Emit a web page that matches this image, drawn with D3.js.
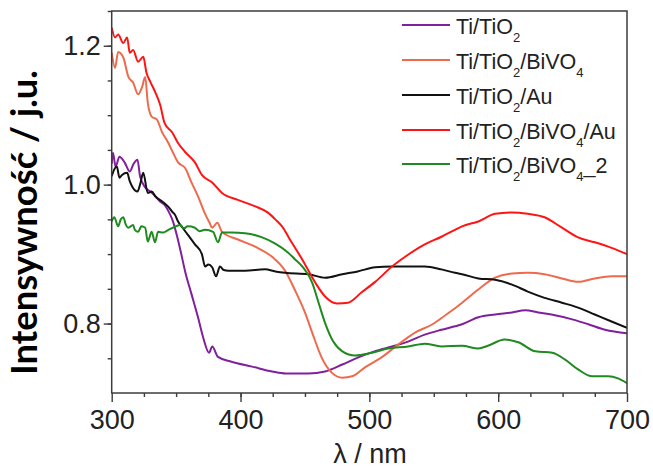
<!DOCTYPE html>
<html>
<head>
<meta charset="utf-8">
<script src="https://cdn.jsdelivr.net/npm/d3@7"></script>
<style>
  html, body { margin: 0; padding: 0; background: #ffffff; }
  svg { display: block; }
</style>
</head>
<body>
<script>
// ---------------- DATA ----------------
const seriesNames = [
  "Ti/TiO_{2}",
  "Ti/TiO_{2}/BiVO_{4}",
  "Ti/TiO_{2}/Au",
  "Ti/TiO_{2}/BiVO_{4}/Au",
  "Ti/TiO_{2}/BiVO_{4}_2"
];
const seriesColors = ["#80209c", "#ee6a4d", "#111111", "#ff1414", "#1f8a1f"];

const xTickLabels = [300, 400, 500, 600, 700];
const yTickLabels = [0.8, 1.0, 1.2];

// [wavelength nm, intensity]
const tio2 = [
  [300,1.030],[301,1.046],[303,1.026],[306,1.040],[310,1.032],[314,1.019],[317,1.030],[320,1.036],
  [322,1.012],[326,0.996],[330,0.990],[334,0.983],[338,0.975],[341,0.971],[344,0.962],[347,0.950],
  [351,0.924],[354,0.900],[357,0.875],[362,0.842],[367,0.809],[371,0.780],[375.6,0.758],[378,0.767],
  [382.5,0.752],[393,0.745],[409,0.738],[424.5,0.731],[435,0.728],[452.6,0.728],[465.6,0.731],
  [479,0.741],[491,0.751],[504,0.760],[517.6,0.767],[530,0.774],[543,0.784],[556,0.791],[566.5,0.796],
  [572,0.799],[584.6,0.809],[597.6,0.813],[610.8,0.816],[621,0.819],[631,0.816],[644,0.812],
  [657.5,0.806],[670,0.799],[683,0.791],[700,0.786]
];
const tio2Bivo4 = [
  [300,1.190],[302.6,1.168],[305,1.191],[309,1.183],[313,1.155],[316.6,1.147],[320.5,1.130],
  [323.5,1.140],[326,1.155],[328,1.118],[331,1.098],[335,1.094],[339,1.076],[344,1.060],[347.6,1.046],
  [351.5,1.032],[357,1.024],[362,1.003],[367,0.983],[372.5,0.958],[376,0.945],[378,0.938],[382,0.945],
  [385.6,0.932],[398,0.921],[411,0.911],[424.5,0.896],[434.6,0.876],[442,0.849],[450,0.816],
  [455.6,0.787],[463,0.751],[471,0.729],[479,0.722],[486.6,0.724],[496.6,0.737],[510,0.752],
  [522.5,0.770],[535.5,0.787],[549,0.799],[559,0.812],[566.5,0.822],[572,0.830],[584.6,0.849],
  [597.6,0.866],[610.8,0.872],[623,0.873],[636,0.871],[649.5,0.865],[662,0.860],[675,0.865],
  [688,0.868],[700,0.868]
];
const tio2Au = [
  [300,1.012],[302,1.022],[304,1.026],[306,1.010],[308,1.014],[312,1.017],[314,1.005],[316,0.997],
  [320,0.990],[322,1.000],[324.5,1.017],[328,0.988],[331,0.990],[334,0.983],[339,0.976],[344,0.968],
  [347,0.961],[349,0.957],[351.5,0.947],[355,0.938],[359,0.928],[364.6,0.914],[370,0.900],
  [372.5,0.882],[375,0.885],[378,0.881],[381,0.868],[384,0.882],[387,0.877],[390.5,0.876],
  [403.5,0.876],[419,0.878],[427,0.875],[434.6,0.873],[452.6,0.871],[465.6,0.866],[479,0.871],
  [491,0.875],[504.5,0.881],[517.6,0.882],[530,0.882],[543,0.882],[556,0.878],[566.5,0.873],
  [572,0.871],[584.6,0.865],[597.6,0.863],[610.8,0.856],[623,0.846],[636,0.837],[649.5,0.830],
  [662,0.823],[675,0.813],[688,0.803],[700,0.794]
];
const tio2Bivo4Au = [
  [300,1.226],[302.6,1.212],[305,1.216],[309,1.204],[312,1.212],[314,1.190],[316.6,1.194],
  [320.5,1.177],[324.5,1.184],[327,1.161],[330,1.148],[333.6,1.134],[337.6,1.115],[341,1.089],
  [347,1.075],[351.5,1.060],[357,1.047],[364.6,1.032],[370,1.014],[378,1.003],[385.6,0.988],
  [398,0.978],[411,0.969],[421,0.960],[427,0.950],[433,0.938],[438,0.922],[448,0.892],[458,0.859],
  [465.6,0.839],[475,0.829],[483.5,0.830],[494,0.845],[504.5,0.860],[517.6,0.882],[530,0.899],
  [543,0.914],[556,0.925],[566.5,0.935],[572,0.940],[584.6,0.947],[597.6,0.958],[610.8,0.960],
  [623,0.958],[636,0.953],[649.5,0.938],[662,0.924],[675,0.917],[688,0.909],[700,0.900]
];
const tio2Bivo4_2 = [
  [300,0.947],[302,0.953],[305,0.940],[307,0.950],[309,0.953],[311,0.942],[313,0.938],[316.6,0.942],
  [318,0.935],[320.5,0.932],[323,0.940],[326,0.938],[328,0.918],[331,0.932],[333.6,0.917],[336,0.932],
  [340,0.931],[344,0.935],[347.6,0.938],[353,0.942],[356,0.937],[359,0.940],[364.6,0.938],[368,0.933],
  [372.5,0.935],[378.7,0.932],[382.5,0.917],[385.6,0.931],[393,0.931],[403.5,0.930],[416.8,0.924],
  [427,0.915],[437,0.902],[442,0.893],[448,0.882],[455.6,0.859],[460.6,0.830],[465.6,0.801],
  [472,0.774],[479,0.760],[489,0.754],[502,0.758],[514.6,0.764],[530,0.767],[543,0.771],[556,0.767],
  [572,0.768],[584.6,0.764],[592,0.768],[605,0.777],[615.6,0.773],[629,0.760],[642,0.758],[652,0.748],
  [662,0.734],[673,0.724],[685.6,0.724],[693,0.721],[700,0.714]
];
const seriesData = [tio2, tio2Bivo4, tio2Au, tio2Bivo4Au, tio2Bivo4_2];

// ---------------- CHART ----------------
const W = 653, H = 468;
const plot = { left: 111.7, right: 627, top: 11, bottom: 393 };

const svg = d3.select("body").append("svg").attr("width", W).attr("height", H);

const x = d3.scaleLinear().domain([300, 700]).range([plot.left, plot.right]);
const y = d3.scaleLinear().domain([0.7, 1.25]).range([plot.bottom, plot.top]);

const tickFont = "'Liberation Sans', Arial, sans-serif";

svg.append("clipPath").attr("id", "clip")
  .append("rect").attr("x", plot.left).attr("y", plot.top)
  .attr("width", plot.right - plot.left).attr("height", plot.bottom - plot.top);

// minor/major ticks
const minorX = d3.range(325, 700, 25);
const minorY = d3.range(0.75, 1.2501, 0.05);

function styleAxis(g) {
  g.select(".domain").remove();
  g.selectAll(".tick line").attr("stroke", "#3c3c3c").attr("stroke-width", 1.4);
  g.selectAll(".tick text").attr("fill", "#222").style("font-family", tickFont).style("font-size", "27px");
}

svg.append("g").attr("transform", `translate(0,${plot.bottom})`)
  .call(d3.axisBottom(x).tickValues(minorX).tickSize(4).tickFormat(""))
  .call(styleAxis)
  .call(g => g.selectAll(".tick text").remove());
svg.append("g").attr("transform", `translate(0,${plot.bottom})`)
  .call(d3.axisBottom(x).tickValues(xTickLabels).tickSize(9).tickPadding(8).tickFormat(d3.format("d")))
  .call(styleAxis);

svg.append("g").attr("transform", `translate(${plot.left},0)`)
  .call(d3.axisLeft(y).tickValues(minorY).tickSize(4).tickFormat(""))
  .call(styleAxis)
  .call(g => g.selectAll(".tick text").remove());
svg.append("g").attr("transform", `translate(${plot.left},0)`)
  .call(d3.axisLeft(y).tickValues(yTickLabels).tickSize(8).tickPadding(3).tickFormat(d3.format(".1f")))
  .call(styleAxis);

// lines
const line = d3.line().x(d => x(d[0])).y(d => y(d[1])).curve(d3.curveMonotoneX);
const lines = svg.append("g").attr("clip-path", "url(#clip)");
seriesData.forEach((s, i) => {
  lines.append("path").datum(s)
    .attr("d", line)
    .attr("fill", "none")
    .attr("stroke", seriesColors[i])
    .attr("stroke-width", 2)
    .attr("stroke-linejoin", "round");
});

// frame
svg.append("rect")
  .attr("x", plot.left).attr("y", plot.top)
  .attr("width", plot.right - plot.left).attr("height", plot.bottom - plot.top)
  .attr("fill", "none").attr("stroke", "#3c3c3c").attr("stroke-width", 1.5);

// axis titles
svg.append("text")
  .attr("x", 370).attr("y", 463)
  .attr("text-anchor", "middle")
  .style("font-family", tickFont).style("font-size", "27px").attr("fill", "#222")
  .text("λ / nm");

const yTitle = svg.append("text")
  .attr("transform", "translate(36.5,222.5) rotate(-90)")
  .attr("text-anchor", "middle")
  .style("font-family", "Lato, 'Open Sans', sans-serif").style("font-weight", "700")
  .style("font-size", "26px").attr("fill", "#000")
  .text("Intensywność / j.u.");
const len = yTitle.node().getComputedTextLength();
if (len > 0) yTitle.style("font-size", (26 * 305 / len).toFixed(2) + "px");

// legend
const legendRows = [25, 60, 95, 130, 164];
const legend = svg.append("g");
seriesNames.forEach((name, i) => {
  const ry = legendRows[i];
  legend.append("line")
    .attr("x1", 402).attr("x2", 450).attr("y1", ry).attr("y2", ry)
    .attr("stroke", seriesColors[i]).attr("stroke-width", 2);
  const t = legend.append("text")
    .attr("x", 456).attr("y", ry + 9)
    .style("font-family", tickFont).style("font-size", "21.5px").attr("fill", "#222");
  const parts = name.split(/(_\{[^}]*\})/).filter(p => p.length);
  let shift = 0;
  parts.forEach(p => {
    if (p.startsWith("_{")) {
      t.append("tspan").text(p.slice(2, -1))
        .attr("dy", 8 - shift).style("font-size", "13px");
      shift = 8;
    } else {
      t.append("tspan").text(p).attr("dy", -shift);
      shift = 0;
    }
  });
});
</script>
</body>
</html>
